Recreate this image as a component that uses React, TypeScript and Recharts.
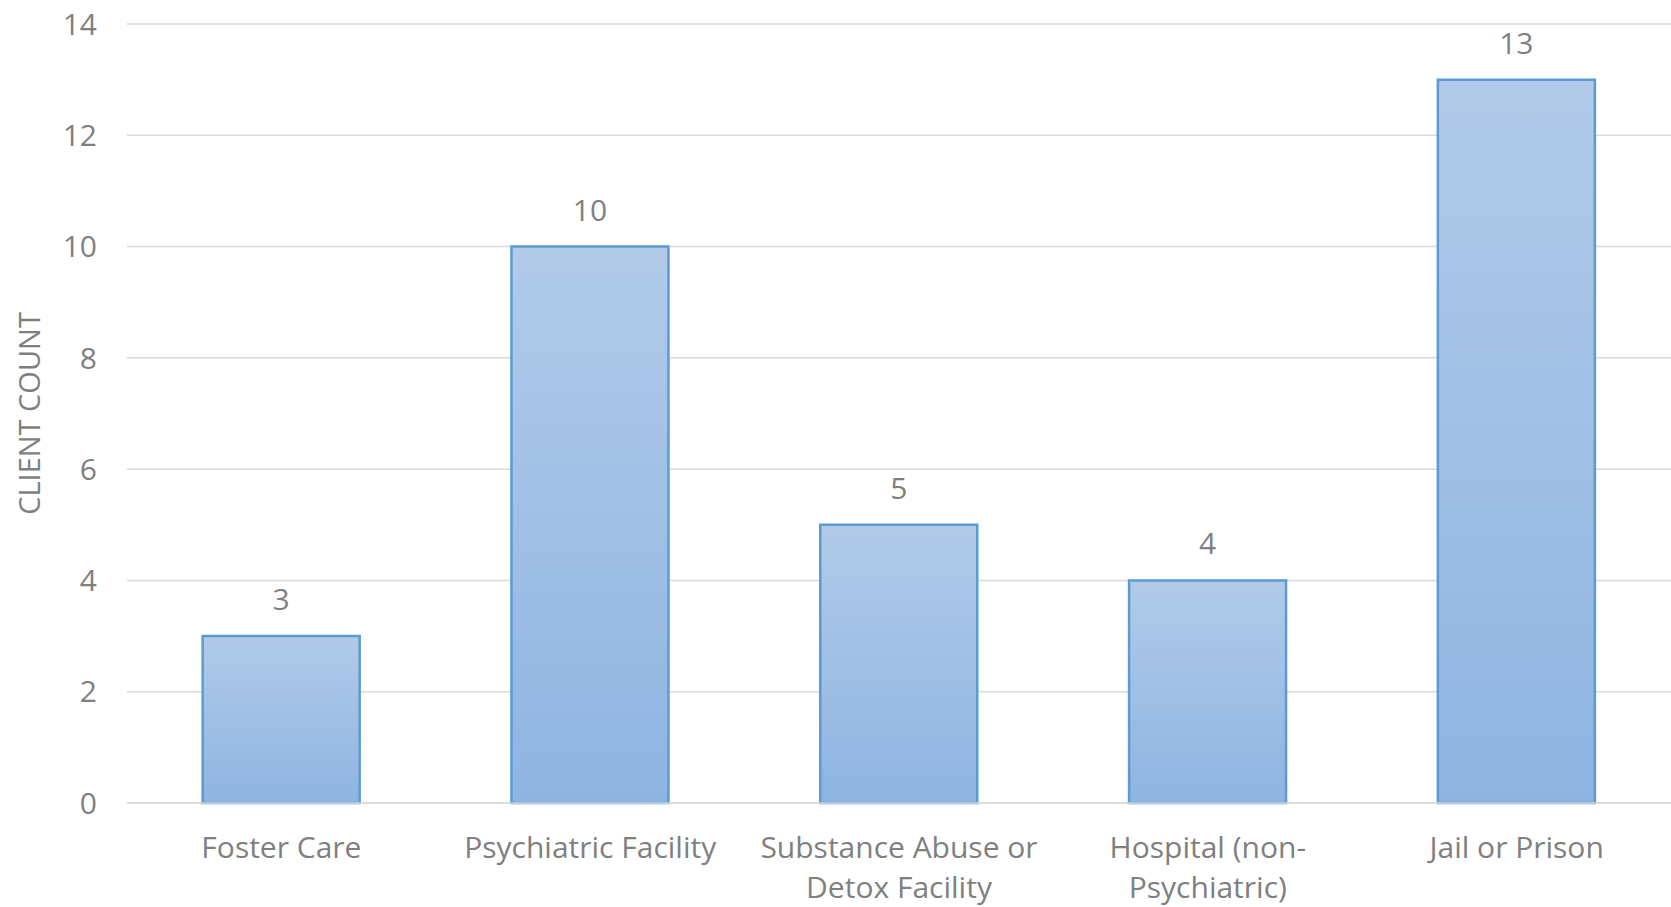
import React from 'react';
import { BarChart, Bar, XAxis, YAxis, CartesianGrid, LabelList } from 'recharts';

const categories = ['Foster Care', 'Psychiatric Facility', 'Substance Abuse or\nDetox Facility', 'Hospital (non-\nPsychiatric)', 'Jail or Prison'];
const clientCounts = [3, 10, 5, 4, 13];
const yTicks = [0, 2, 4, 6, 8, 10, 12, 14];

const FONT = '"Open Sans", sans-serif';
const GREY = '#7f7f7f';

const data = categories.map((name, i) => ({ name, count: clientCounts[i] }));

const CategoryTick = (props: any) => {
  const { x, y, payload } = props;
  const lines: string[] = String(payload.value).split('\n');
  return (
    <g transform={`translate(${x},${y})`}>
      {lines.map((line, i) => (
        <text key={i} x={0} y={i * 40} dy={47} textAnchor="middle" fill={GREY} fontSize={30} fontFamily={FONT}>
          {line}
        </text>
      ))}
    </g>
  );
};

// rotated axis title, centred on the plot height
const AxisTitle = (props: any) => {
  const vb = props.viewBox || {};
  const cy = vb.y + vb.height / 2;
  return (
    <text x={28} y={cy} transform={`rotate(-90, 28, ${cy})`} textAnchor="middle" dominantBaseline="central" fill={GREY} fontSize={29} fontFamily={FONT}>
      CLIENT COUNT
    </text>
  );
};

const App: React.FC = () => {
  return (
    <div style={{ position: 'fixed', left: 0, top: 0, width: 1671, height: 907, background: '#fff', overflow: 'hidden' }}>
      <BarChart width={1671} height={907} data={data} margin={{ top: 24, right: 0, bottom: 74, left: 0 }} barCategoryGap="24.5%">
        <defs>
          <linearGradient id="barFill" x1="0" y1="0" x2="0" y2="1">
            <stop offset="0%" stopColor="#b1cae8" />
            <stop offset="100%" stopColor="#8eb4e2" />
          </linearGradient>
        </defs>
        <CartesianGrid vertical={false} stroke="#d9d9d9" strokeWidth={1.5} />
        <XAxis
          dataKey="name"
          interval={0}
          height={30}
          tick={<CategoryTick />}
          tickLine={false}
          axisLine={{ stroke: '#d9d9d9', strokeWidth: 1.5 }}
        />
        <YAxis
          width={127}
          domain={[0, 14]}
          ticks={yTicks}
          interval={0}
          tickLine={false}
          axisLine={false}
          tickSize={0}
          tickMargin={30}
          tick={{ fill: GREY, fontSize: 30, fontFamily: FONT }}
          label={<AxisTitle />}
        />
        <Bar dataKey="count" fill="url(#barFill)" stroke="#5b9bd5" strokeWidth={2.5} isAnimationActive={false}>
          <LabelList dataKey="count" position="top" offset={26} fill={GREY} fontSize={30} fontFamily={FONT} />
        </Bar>
      </BarChart>
    </div>
  );
};

export default App;
